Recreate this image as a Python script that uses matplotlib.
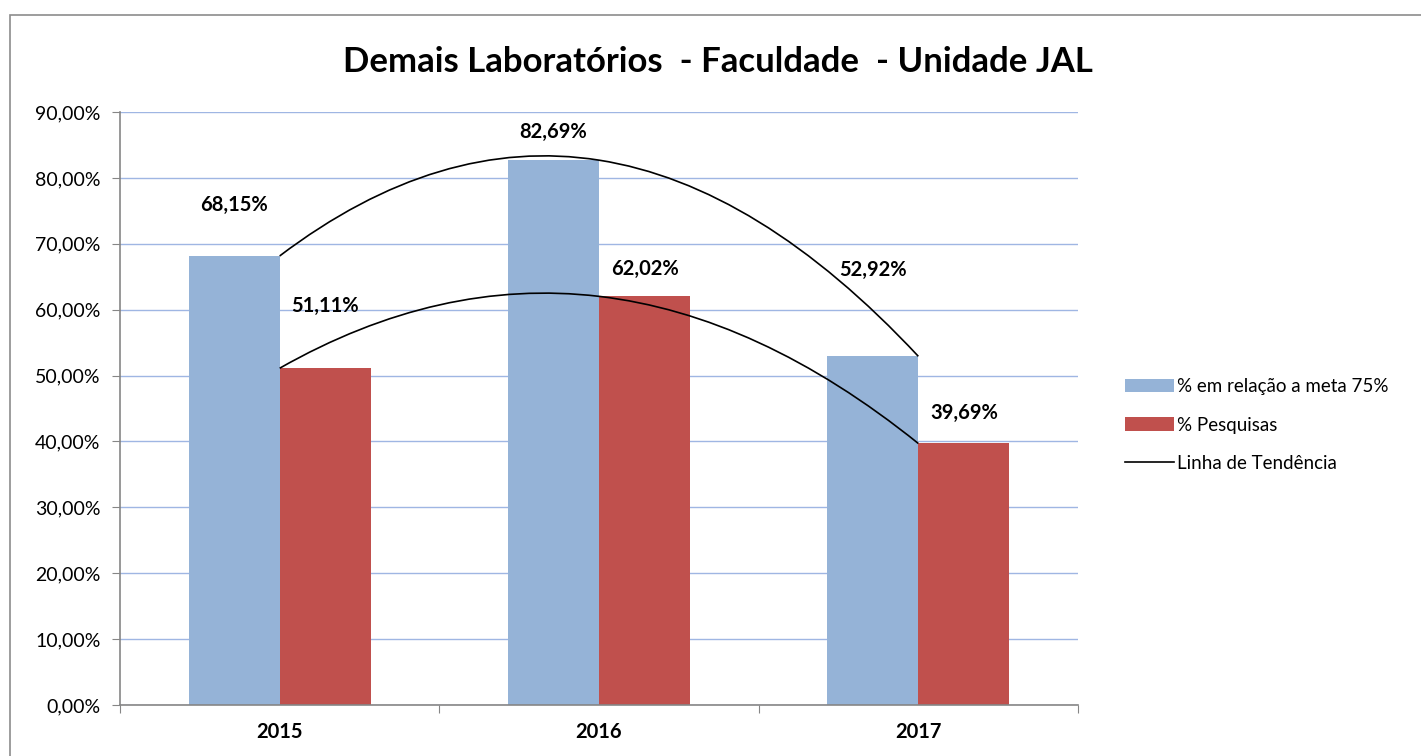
import numpy as np
import matplotlib.pyplot as plt
from matplotlib.path import Path
from matplotlib.patches import PathPatch, Rectangle
from matplotlib.lines import Line2D
from matplotlib.ticker import FuncFormatter

anos = ['2015', '2016', '2017']
meta = [68.15, 82.69, 52.92]
pesquisas = [51.11, 62.02, 39.69]
yticks = [0, 10, 20, 30, 40, 50, 60, 70, 80, 90]

azul = '#95B3D7'
vermelho = '#C0504D'
grade = '#9FB6E3'
eixo = '#868686'

plt.rcParams['font.family'] = ['Lato', 'DejaVu Sans']


def suave(xs, ys):
    # linha suavizada (Hermite -> Bezier), tangentes nas pontas refletidas
    pts = np.column_stack([xs, ys]).astype(float)
    n = len(pts)
    m = np.zeros_like(pts)
    for i in range(1, n - 1):
        m[i] = (pts[i + 1] - pts[i - 1]) / 2
    m[0] = 2 * (pts[1] - pts[0]) - m[1]
    m[-1] = 2 * (pts[-1] - pts[-2]) - m[-2]
    verts = [pts[0]]
    codes = [Path.MOVETO]
    for i in range(n - 1):
        verts += [pts[i] + m[i] / 3, pts[i + 1] - m[i + 1] / 3, pts[i + 1]]
        codes += [Path.CURVE4] * 3
    return Path(verts, codes)


fig = plt.figure(figsize=(14.21, 7.56), dpi=100)
fig.patches.append(Rectangle((10 / 1421, -0.1), 1.2, 1 - 15 / 756 + 0.1,
                             transform=fig.transFigure, fill=False,
                             edgecolor='#8C8C8C', linewidth=1.2))

ax = fig.add_axes([120 / 1421, 1 - 705 / 756, 958 / 1421, 593 / 756])

x = np.arange(len(anos))
w = 0.285
b1 = ax.bar(x - w / 2, meta, w, color=azul, zorder=2)
b2 = ax.bar(x + w / 2, pesquisas, w, color=vermelho, zorder=2)

for serie in (meta, pesquisas):
    ax.add_patch(PathPatch(suave(x, serie), fill=False, edgecolor='black',
                           linewidth=1.2, zorder=3))

# deslocamento dos rótulos (pontos)
desl_meta = [37, 20, 62]
desl_pesq = [45, 20, 22]
for bars, vals, desl in ((b1, meta, desl_meta), (b2, pesquisas, desl_pesq)):
    for bar, v, d in zip(bars, vals, desl):
        ax.annotate(f'{v:.2f}%'.replace('.', ','),
                    (bar.get_x() + bar.get_width() / 2, v),
                    xytext=(0, d), textcoords='offset points',
                    ha='center', va='center', fontsize=14.5, fontweight='bold',
                    zorder=4)

ax.set_xlim(-0.5, 2.5)
ax.set_ylim(0, 90)
ax.set_yticks(yticks)
ax.yaxis.set_major_formatter(FuncFormatter(lambda v, p: f'{v:.2f}%'.replace('.', ',')))
ax.set_xticks([-0.5, 0.5, 1.5, 2.5])
ax.set_xticklabels([])
ax.set_xticks(x, minor=True)
ax.set_xticklabels(anos, minor=True, fontsize=14.5, fontweight='bold')
ax.tick_params(axis='x', which='minor', length=0, pad=12)
ax.tick_params(axis='x', which='major', length=6, color=eixo, direction='out')
ax.tick_params(axis='y', length=6, color=eixo, labelsize=14, pad=8)
ax.grid(axis='y', color=grade, linewidth=1, zorder=0)
ax.set_axisbelow(True)
for s in ('top', 'right'):
    ax.spines[s].set_visible(False)
for s in ('left', 'bottom'):
    ax.spines[s].set_color(eixo)
    ax.spines[s].set_linewidth(1.2)

fig.text(718 / 1421, 1 - 62 / 756, 'Demais Laboratórios  - Faculdade  - Unidade JAL',
         ha='center', va='center', fontsize=25, fontweight='bold')

handles = [b1, b2, Line2D([], [], color='black', linewidth=1.2)]
labels = ['% em relação a meta 75%', '% Pesquisas', 'Linha de Tendência']
fig.legend(handles, labels, loc='center left', bbox_to_anchor=(1108 / 1421, 1 - 425 / 756),
           frameon=False, fontsize=13.5, handlelength=2.6, handleheight=0.75,
           handletextpad=0.2, labelspacing=1.15)

fig.savefig('out.png', dpi=100)
